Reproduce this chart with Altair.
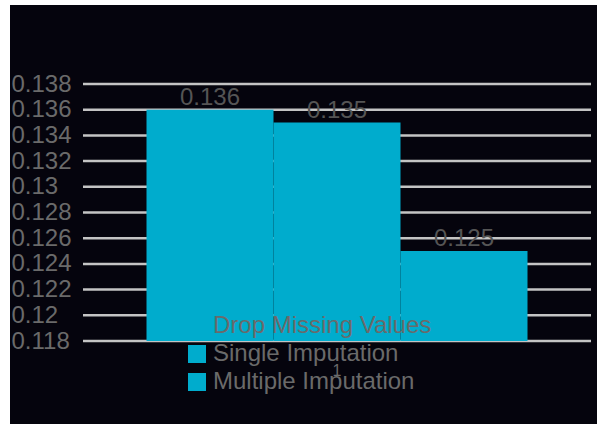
import altair as alt
import pandas as pd

# ---- data ----
groups = ["1", "1", "1"]
methods = ["Drop Missing Values", "Single Imputation", "Multiple Imputation"]
scores = [0.136, 0.135, 0.125]
y_ticks = [0.118, 0.120, 0.122, 0.124, 0.126, 0.128, 0.130, 0.132, 0.134, 0.136, 0.138]

# ---- styles ----
BG = "#05040d"
BAR = "#00accd"
GRID = "#c4c4c4"
LABEL = "#6a6a6a"
VALUE = "#555555"
FONT = "Liberation Sans"

df = pd.DataFrame({"group": groups, "method": methods, "score": scores})
ticks_df = pd.DataFrame({"tick": y_ticks})

yscale = alt.Scale(domain=[y_ticks[0], y_ticks[-1]], zero=False, nice=False)
xscale = alt.Scale(paddingInner=0, paddingOuter=1 / 6)
xoff_scale = alt.Scale(paddingInner=0, paddingOuter=0)

y_axis = alt.Axis(
    values=y_ticks,
    format="~g",
    title=None,
    grid=False,
    ticks=False,
    domain=False,
    labelAlign="left",
    labelBaseline="middle",
    labelPadding=72,
    labelFontSize=24,
    labelColor=LABEL,
    labelFont=FONT,
    labelOverlap=False,
    labelFlush=False,
    zindex=1,
)

background = alt.Chart(alt.Data(values=[{"a": 1}])).mark_rect(color=BG).encode(
    x=alt.value(-73), x2=alt.value(514), y=alt.value(-79), y2=alt.value(340)
)

grid = alt.Chart(ticks_df).mark_rule(color=GRID, strokeWidth=2.5).encode(
    y=alt.Y("tick:Q", scale=yscale, axis=y_axis)
)

x_enc = alt.X(
    "group:N",
    scale=xscale,
    axis=alt.Axis(
        title=None,
        labelAngle=0,
        ticks=False,
        domain=False,
        labelPadding=21,
        labelFontSize=16,
        labelColor=LABEL,
        labelFont=FONT,
        zindex=1,
    ),
)
xoff_enc = alt.XOffset("method:N", sort=methods, scale=xoff_scale)

bars = alt.Chart(df).mark_bar().encode(
    x=x_enc,
    xOffset=xoff_enc,
    y=alt.Y("score:Q", scale=yscale, axis=y_axis),
    y2=alt.datum(y_ticks[0]),
    color=alt.Color(
        "method:N",
        sort=methods,
        scale=alt.Scale(domain=methods, range=[BAR, BAR, BAR]),
        legend=alt.Legend(
            title=None,
            orient="none",
            legendX=102,
            legendY=230,
            symbolType="square",
            symbolSize=324,
            symbolStrokeWidth=0,
            symbolOpacity=1,
            labelFontSize=24,
            labelFont=FONT,
            labelColor=LABEL,
            labelOffset=4,
            labelLimit=0,
            rowPadding=4,
            padding=0,
        ),
    ),
)

text = alt.Chart(df).mark_text(
    dy=-5, baseline="alphabetic", fontSize=24, font=FONT, color=VALUE
).encode(
    x=x_enc,
    xOffset=xoff_enc,
    y=alt.Y("score:Q", scale=yscale, axis=y_axis),
    text=alt.Text("score:Q", format="~g"),
)

chart = (
    alt.layer(background, grid, bars, text)
    .properties(
        width=508,
        height=257,
        padding={"left": 83, "top": 84, "right": 6, "bottom": 83},
        autosize=alt.AutoSizeParams(type="none"),
    )
    .configure(background="white", font=FONT)
    .configure_axis(labelOverlap=False)
    .configure_view(stroke=None)
)

chart.save("out.html", embed_options={"renderer": "svg", "actions": False})
